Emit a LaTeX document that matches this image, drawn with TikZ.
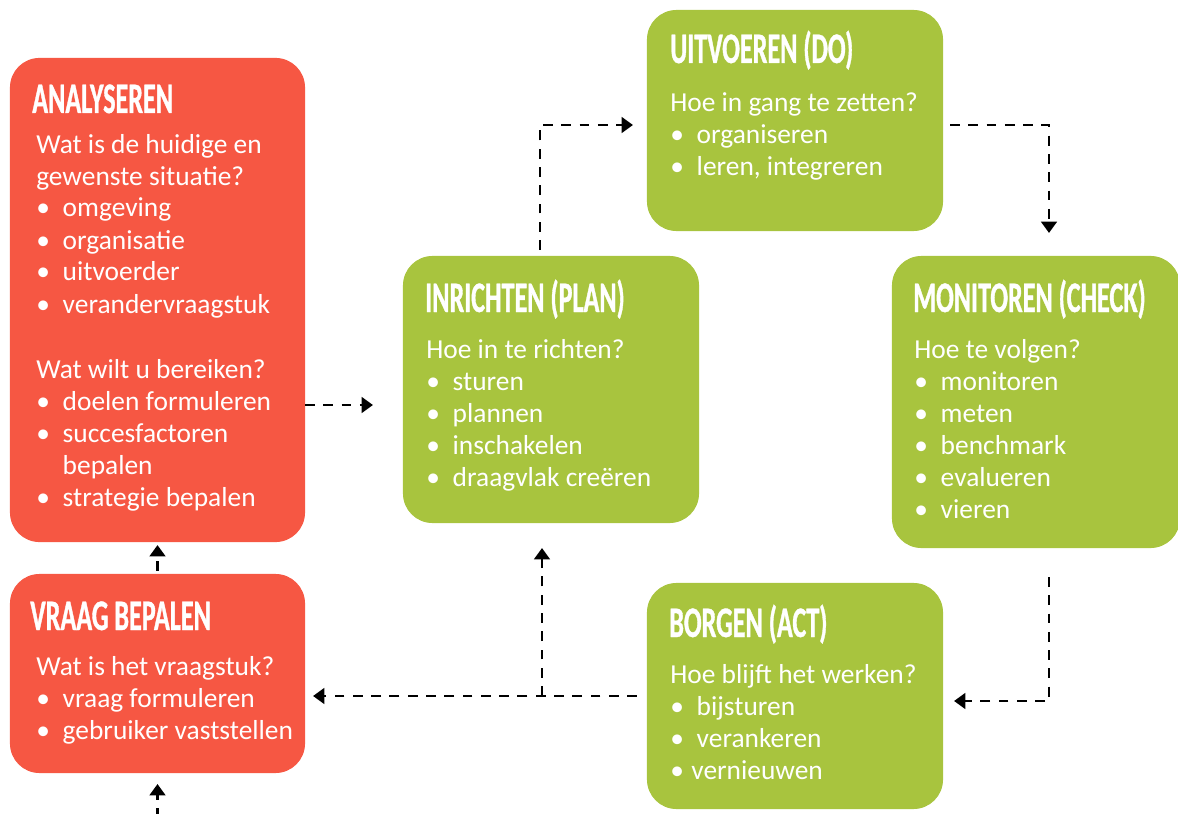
\documentclass[tikz,border=0pt]{standalone}
\usepackage{fontspec}
\setmainfont{Carlito}
\newfontfamily\headfont[FakeStretch=0.6,FakeBold=0.8]{Carlito}
\usetikzlibrary{calc,arrows.meta}

\definecolor{rood}{HTML}{F65743}
\definecolor{groen}{HTML}{A8C43E}
\newcommand{\bul}[1][18.8pt]{\makebox[#1][l]{\textbullet}}

\tikzset{
	box/.style={rectangle, rounded corners=21pt, inner sep=0pt, outer sep=0pt, minimum width=7.4cm},
	kop/.style={anchor=base west, inner sep=0pt, text=white, font=\headfont\bfseries\fontsize{31}{31}\selectfont},
	regel/.style={anchor=base west, inner sep=0pt, text=white, font=\fontsize{19.5}{23}\selectfont},
	flow/.style={-{Triangle[length=8pt,width=11pt]}, line width=2pt, dash pattern=on 7pt off 6pt}
}

\begin{document}
\begin{tikzpicture}[x=0.025cm, y=-0.025cm]
\useasboundingbox (0,0) rectangle (1178,814);

\node[box, fill=rood, minimum width=7.375cm, minimum height=12.1cm] (an) at (157.5,300) {};
\node[box, fill=rood, minimum width=7.375cm, minimum height=4.975cm] (vr) at (157.5,673.5) {};
\node[box, fill=groen, minimum height=6.675cm] (inr) at (551,389.5) {};
\node[box, fill=groen, minimum height=5.525cm] (uit) at (795,120.5) {};
\node[box, fill=groen, minimum width=7.2cm, minimum height=7.3cm] (mon) at (1036,402) {};
\node[box, fill=groen, minimum height=5.65cm] (bor) at (795,696) {};

\node[kop] (an-kop) at (32,113) {ANALYSEREN};
\node[kop] (vr-kop) at (30,630) {VRAAG BEPALEN};
\node[kop] (inr-kop) at (425,312) {INRICHTEN (PLAN)};
\node[kop] (uit-kop) at (670,63) {UITVOEREN (DO)};
\node[kop] (mon-kop) at (913,312) {MONITOREN (CHECK)};
\node[kop] (bor-kop) at (669,637) {BORGEN (ACT)};

\foreach \y/\t in {154/Wat is de huidige en, 186/gewenste situatie?, 217/\bul omgeving, 249/\bul organisatie, 281/\bul uitvoerder, 313/\bul verandervraagstuk, 378/Wat wilt u bereiken?, 410/\bul doelen formuleren, 442/\bul succesfactoren, 474/\hspace{18.8pt}bepalen, 506/\bul strategie bepalen}
{
	\node[regel] (an-\y) at (36,\y) {\t};
}
\foreach \y/\t in {675/Wat is het vraagstuk?, 707/\bul vraag formuleren, 739/\bul gebruiker vaststellen}
{
	\node[regel] (vr-\y) at (36,\y) {\t};
}
\foreach \y/\t in {358/Hoe in te richten?, 390/\bul sturen, 422/\bul plannen, 454/\bul inschakelen, 486/\bul draagvlak creëren}
{
	\node[regel] (inr-\y) at (426,\y) {\t};
}
\foreach \y/\t in {112/Hoe in gang te zetten?, 144/\bul organiseren, {176/\bul leren, integreren}}
{
	\node[regel] (uit-\y) at (670,\y) {\t};
}
\foreach \y/\t in {358/Hoe te volgen?, 390/\bul monitoren, 422/\bul meten, 454/\bul benchmark, 486/\bul evalueren, 518/\bul vieren}
{
	\node[regel] (mon-\y) at (914,\y) {\t};
}
\foreach \y/\t in {683/Hoe blijft het werken?, 715/\bul bijsturen, 747/\bul verankeren, 779/\bul[15pt]vernieuwen}
{
	\node[regel] (bor-\y) at (670,\y) {\t};
}

\coordinate (knik) at ($(inr.south)+(-9,25)$);
\coordinate (bron) at ($(vr.south)+(0,45)$);

\draw[flow] ($(an.east |- inr.west)+(0,15.5)$) -- ($(inr.west)+(-30,15.5)$);
\draw[flow] ($(inr.north)+(-11,-6)$) |- ($(uit.west)+(-14,4.5)$);
\draw[flow] ($(uit.east)+(7,4.5)$) -| ($(mon.north)+(13,-23)$);
\draw[flow] ($(mon.south)+(13,29)$) |- ($(bor.east)+(11,5)$);
\draw[flow] ($(bor.west)+(-10,0)$) -- ($(vr.east |- bor.west)+(8,0)$);
\draw[flow] (knik |- bor.west) -- (knik);
\draw[flow] ($(vr.north)+(0,-3)$) -- ($(an.south)+(0,3)$);
\draw[flow] (bron) -- ($(vr.south)+(0,11)$);
\end{tikzpicture}
\end{document}
